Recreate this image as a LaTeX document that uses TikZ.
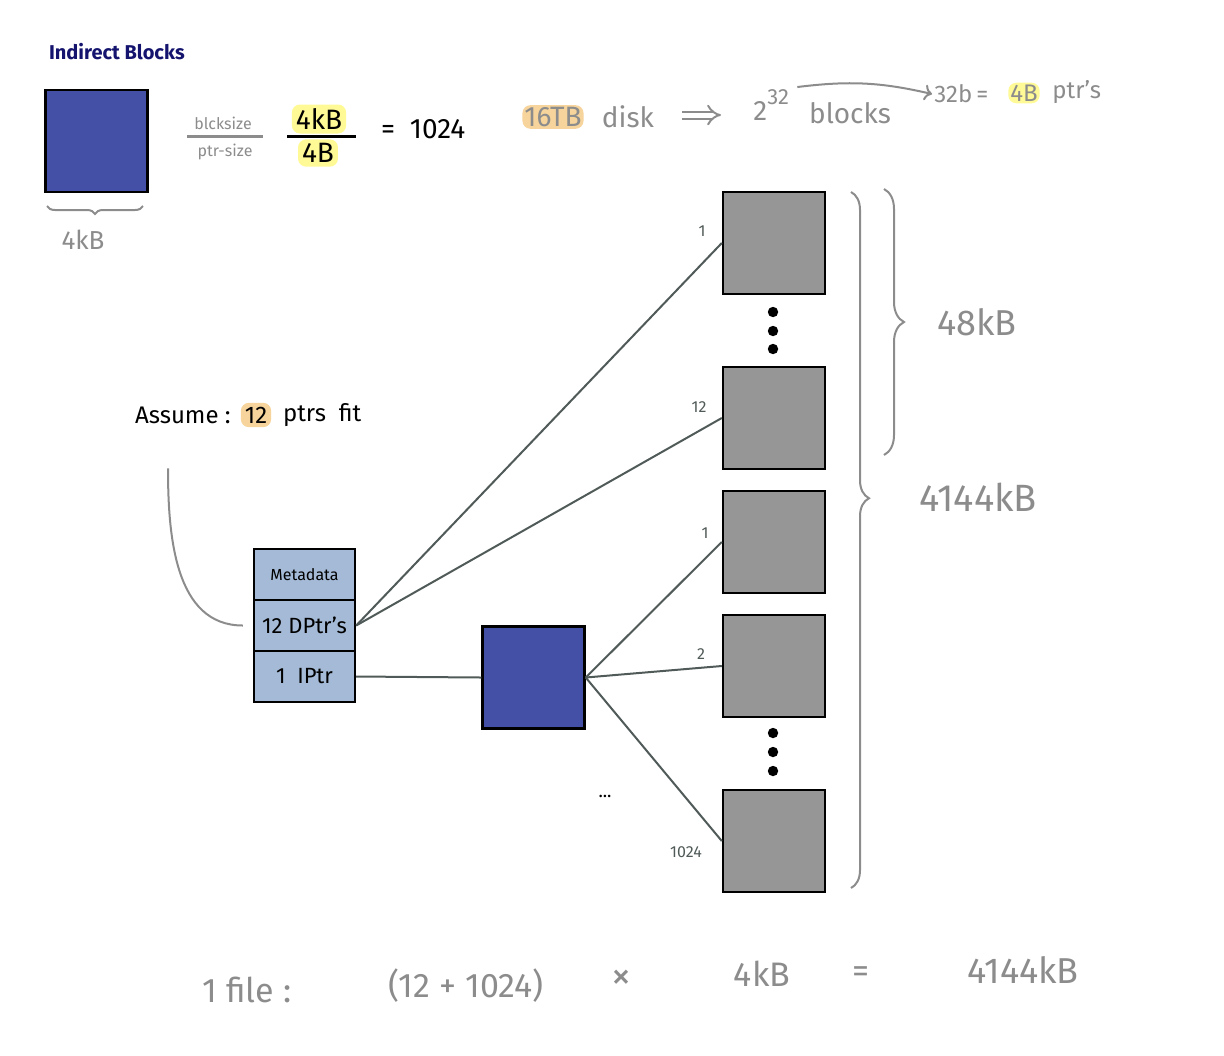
\documentclass[tikz,border=0pt]{standalone}
\usepackage{fontspec}
\setmainfont{Fira Sans}
\usetikzlibrary{positioning,arrows.meta,decorations.pathreplacing}
\definecolor{blkblue}{RGB}{68,80,165}
\definecolor{boxgray}{RGB}{150,150,150}
\definecolor{inodeblue}{RGB}{164,186,214}
\definecolor{linegray}{RGB}{80,90,88}
\definecolor{notegray}{RGB}{140,140,140}
\definecolor{hlorange}{RGB}{246,212,155}
\definecolor{hlyellow}{RGB}{255,250,150}
\definecolor{titleblue}{RGB}{20,20,110}
\newcommand{\fs}[1]{\fontsize{#1}{#1}\selectfont}
\tikzset{
  blk/.style={draw=black,line width=1.2pt,minimum size=51pt,inner sep=0pt},
  cell/.style={draw=black,line width=1.2pt,fill=inodeblue,minimum width=50.5pt,
    minimum height=25.5pt,inner sep=0pt},
  ptr/.style={draw=linegray,line width=1pt},
  note/.style={text=notegray,inner sep=1pt},
  hl/.style={rounded corners=4pt,inner sep=2pt},
  brc/.style={draw=notegray,line width=1pt,decorate},
  lbl/.style={text=linegray,font=\fs{8}}
}
\begin{document}
\begin{tikzpicture}[x=0.5pt,y=-0.5pt]
  \useasboundingbox (0,0) rectangle (1224,1055);

  % header: block size and pointer size
  \node[anchor=west,text=titleblue,font=\bfseries\fs{10}] (title) at (42,52) {Indirect Blocks};
  \node[blk,fill=blkblue] (ib) at (96.5,141) {};
  \draw[brc,decoration={brace,amplitude=4pt}] (143,206) -- (47,206);
  \node[note,font=\fs{13}] (ibsize) at (83,240) {4kB};

  \node[note,font=\fs{8}] (bsz) at (223,123) {blcksize};
  \node[note,font=\fs{8}] (psz) at (225,152) {ptr-size};
  \draw[notegray,line width=1.5pt] (187,136) -- (263,136);
  \node[hl,fill=hlyellow,font=\fs{14}] (num) at (319,119) {4kB};
  \node[hl,fill=hlyellow,font=\fs{14}] (den) at (318,153) {4B};
  \draw[black,line width=1.5pt] (287,136) -- (356,136);
  \node[anchor=west,font=\fs{14}] (res) at (374,129) {=\ \ 1024};

  \node[hl,fill=hlorange,note,font=\fs{14}] (disk) at (553,117) {16TB};
  \node[note,font=\fs{14}] (dk) at (628,117) {disk};
  \node[note,font=\fs{14},anchor=west] (pow) at (751,105) {2\raisebox{1.1ex}{\fs{11}32}};
  \draw[notegray,line width=1pt,double distance=2.5pt,-{Implies}]
    ([shift={(26,-2)}]dk.east) -- ([shift={(-30,10)}]pow.west);
  \node[note,font=\fs{14}] (blks) at (850,113) {blocks};
  \node[note,font=\fs{12},anchor=west] (bits) at (932,94) {32b\,=};
  \node[hl,fill=hlyellow,note,font=\fs{12}] (pb) at (1024,93) {4B};
  \node[note,font=\fs{12},anchor=west] (ptrs) at (1050,92) {ptr's};
  \draw[notegray,line width=1pt,->] ([xshift=3pt]pow.north east) to[bend left=10] (bits.west);

  % inode and data blocks
  \node[anchor=west,font=\fs{12}] (asm) at (128,415) {Assume :};
  \node[hl,fill=hlorange,font=\fs{12}] (twelve) at (256,415) {12};
  \node[anchor=west,font=\fs{12}] (fit) at (276,415) {ptrs\ \ fit};

  \node[cell,font=\fs{8}] (c1) at (304.5,574.5) {Metadata};
  \node[cell,font=\fs{11}] (c2) at (304.5,625.5) {12 DPtr's};
  \node[cell,font=\fs{11}] (c3) at (304.5,676.5) {1\ \ IPtr};
  \draw[notegray,line width=1pt] ([shift={(40,38)}]asm.south west)
    to[out=-90,in=180] ([xshift=-5pt]c2.west);

  \node[blk,fill=blkblue] (ind) at (533.5,677.5) {};
  \foreach \n/\y in {1/243,2/418,3/542,4/666,5/841}
    \node[blk,fill=boxgray] (d\n) at (774,\y) {};
  \foreach \y in {312,331,349,733,752,771}
    \fill (773,\y) circle (2.6pt);

  \begin{scope}[ptr]
    \draw (c2.east) -- (d1.west);
    \draw (c2.east) -- (d2.west);
    \draw (c3.east) -- (ind.west);
    \draw (ind.east) -- (d3.west);
    \draw (ind.east) -- (d4.west);
    \draw (ind.east) -- (d5.west);
  \end{scope}
  \node[lbl] (l1) at (702,231) {1};
  \node[lbl] (l2) at (699,407) {12};
  \node[lbl] (l3) at (705,533) {1};
  \node[lbl] (l4) at (701,654) {2};
  \node[lbl] (l5) at (686,852) {1024};
  \node[font=\fs{9}] (more) at (605,796) {...};

  % sizes
  \draw[brc,decoration={brace,amplitude=9pt,aspect=0.44}] (851,192) -- (851,888);
  \draw[brc,decoration={brace,amplitude=10pt,aspect=0.5}] (884,189) -- (884,455);
  \node[note,font=\fs{18}] (s48) at (977,322) {48kB};
  \node[note,font=\fs{19}] (s4144) at (978,497) {4144kB};

  % total
  \node[note,font=\fs{17}] (f1) at (247,990) {1 file :};
  \node[note,font=\fs{17}] (f2) at (466,986) {(12 + 1024)};
  \node[note,font=\fs{20}] (f3) at (621,980) {×};
  \node[note,font=\fs{17}] (f4) at (762,974) {4kB};
  \node[note,font=\fs{17}] (f5) at (861,975) {=};
  \node[note,font=\fs{18}] (f6) at (1023,970) {4144kB};
\end{tikzpicture}
\end{document}
